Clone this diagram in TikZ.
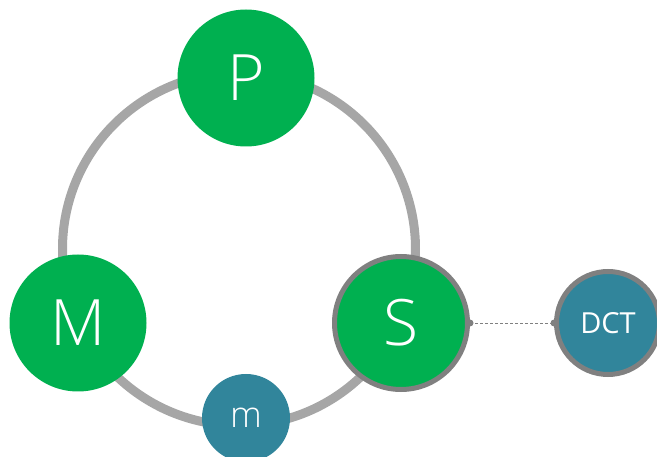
\documentclass[tikz,border=0pt]{standalone}
\usepackage{fontspec}
\setmainfont{Open Sans}
\newfontfamily\thinfont{Open Sans}[UprightFont=* Light]
\usetikzlibrary{positioning}
\definecolor{ringgray}{RGB}{166,166,166}
\definecolor{edgegray}{RGB}{128,128,128}
\definecolor{mgreen}{RGB}{0,176,80}
\definecolor{mteal}{RGB}{49,133,155}
\tikzset{ring/.style={draw=ringgray,line width=9pt}}
\tikzset{bigdot/.style={circle,fill=mgreen,text=white,minimum size=137pt,inner sep=0pt,font=\thinfont\fontsize{64}{64}\selectfont}}
\tikzset{smalldot/.style={circle,fill=mteal,text=white,inner sep=0pt}}
\tikzset{rimmed/.style={draw=edgegray,line width=5pt}}
\tikzset{link/.style={edgegray,densely dashed,line width=0.8pt}}
\tikzset{knob/.style={circle,fill=edgegray,minimum size=7pt,inner sep=0pt}}

\begin{document}
\begin{tikzpicture}[x=1pt,y=-1pt]
  \useasboundingbox (0,0) rectangle (657,457);
  % Ring
  \draw[ring] (239,249) circle (176.5);

  % Nodes
  \node[bigdot] (P) at (246,78) {P};
  \node[bigdot] (M) at (78,323) {M};
  \node[bigdot,rimmed,minimum size=133pt] (S) at (401,323) {S};
  \node[smalldot,minimum size=88pt,font=\thinfont\fontsize{36}{36}\selectfont] (m) at (246,418) {m};
  \node[smalldot,rimmed,minimum size=103pt,font=\fontsize{29}{29}\selectfont] (DCT) at (608,323) {DCT};

  % Link
  \draw[link] (S.east) -- (DCT.west);
  \node[knob] (s1) at (S.east) {};
  \node[knob] (s2) at (DCT.west) {};
\end{tikzpicture}
\end{document}
